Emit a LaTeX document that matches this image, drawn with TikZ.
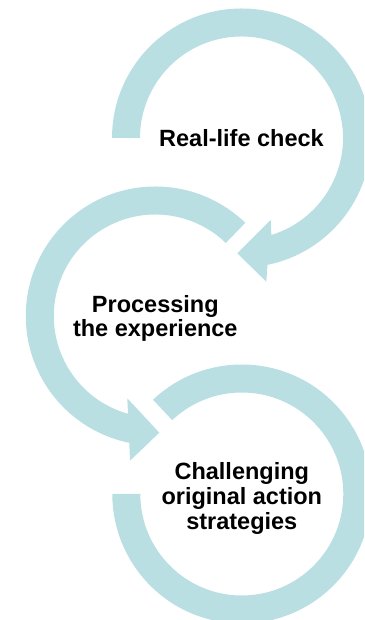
\documentclass[tikz,border=0pt]{standalone}
\usepackage{fontspec}
\setmainfont{Liberation Sans}
\usepackage{tikz}
\usetikzlibrary{calc}
\definecolor{ringblue}{RGB}{186,223,226}

\begin{document}
\begin{tikzpicture}[x=1pt,y=1pt,
  arrowring/.style={fill=ringblue,draw=none},
  stagetext/.style={align=center,text=black,font=\fontsize{23.5}{24.7}\selectfont\bfseries}]
\clip (0,0) rectangle (364,620);

\coordinate (c1) at (241.5,482);
\coordinate (c2) at (155.3,304);
\coordinate (c3) at (241.8,126);

% top ring, head points left
\fill[arrowring] ($(c1)+(180:129.5)$) arc [start angle=180, end angle=-78.4, radius=129.5]
  -- (266.3,338.3) -- (237.3,366.7) -- (270.7,400)
  -- ($(c1)+(-72.9:101.5)$) arc [start angle=-72.9, end angle=180, radius=101.5] -- cycle;

% middle ring, head points right
\fill[arrowring] ($(c2)+(46:129.5)$) arc [start angle=46, end angle=258.4, radius=129.5]
  -- (130,159.3) -- (159.3,187.3) -- (127.3,221.7)
  -- ($(c2)+(254.4:101.5)$) arc [start angle=254.4, end angle=46, radius=101.5] -- cycle;

% bottom ring, no head
\fill[arrowring] ($(c3)+(133.3:129.5)$) arc [start angle=133.3, end angle=-180, radius=129.5]
  -- ($(c3)+(-180:101.5)$) arc [start angle=-180, end angle=133.3, radius=101.5] -- cycle;

\node[stagetext] (check) at (c1) {Real-life check};
\node[stagetext,yshift=-2.5pt] (process) at (c2) {Processing\\the experience};
\node[stagetext,yshift=-4.5pt] (challenge) at (c3) {Challenging\\original action\\strategies};
\end{tikzpicture}
\end{document}
